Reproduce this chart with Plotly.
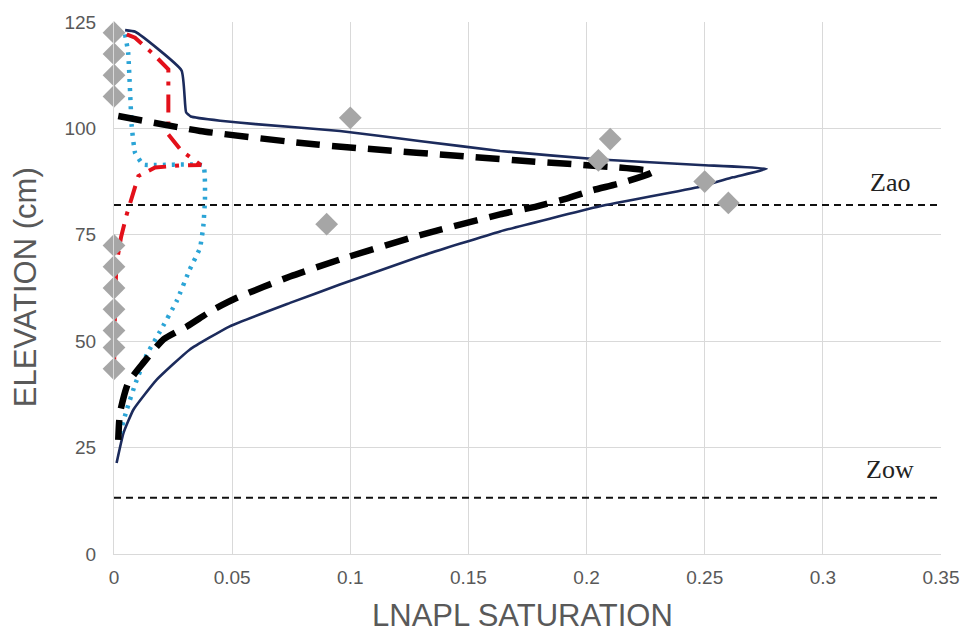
import plotly.graph_objects as go

# ---- data ----
# measured LNAPL saturation (diamonds)
obs_sat = [0, 0, 0, 0, 0.1, 0.21, 0.205, 0.25, 0.26, 0.09, 0, 0, 0, 0, 0, 0, 0]
obs_elev = [122.5, 117.5, 112.5, 107.5, 102.5, 97.5, 92.5, 87.5, 82.5, 77.5,
            72.5, 67.5, 62.5, 57.5, 52.5, 48.5, 43.5]

# solid navy profile
navy_sat = [0.0047, 0.009, 0.0286, 0.0305, 0.0325, 0.045, 0.06, 0.0956, 0.13, 0.1634,
            0.2057, 0.248, 0.2762, 0.262, 0.248, 0.2057, 0.1634, 0.13, 0.0956, 0.0745,
            0.049, 0.032, 0.018, 0.0082, 0.004, 0.0011]
navy_elev = [123.1, 122.7, 113.6, 103.8, 102.8, 101.8, 101.0, 99.4, 97.0, 94.7,
             92.7, 91.4, 90.5, 88.5, 86.3, 81.7, 75.8, 70.0, 63.3, 59.0,
             53.5, 48.0, 40.9, 33.9, 28.4, 21.4]

# black dashed profile
black_sat = [0.0018, 0.0364, 0.0858, 0.17, 0.228, 0.2148, 0.2027, 0.1915, 0.179,
             0.1634, 0.13, 0.0956, 0.0745, 0.052, 0.042, 0.031, 0.0209, 0.0124, 0.006,
             0.0025, 0.0018]
black_elev = [102.9, 99.4, 96.2, 92.5, 89.8, 87.2, 85.5, 83.5, 81.7,
              79.8, 75.0, 69.2, 65.2, 60.2, 57.4, 53.5, 50.4, 44.9, 40.2,
              33.1, 26.8]

# red dash-dot profile
red_sat = [0.0054, 0.0089, 0.016, 0.023, 0.023, 0.023, 0.0286, 0.0368, 0.028, 0.0174,
           0.0103, 0.0054, 0.003, 0.001, 0.0005, 0.0, 0.0]
red_elev = [122.1, 121.3, 117.8, 113.9, 103.7, 98.6, 94.7, 91.4, 91.3, 90.8,
            88.8, 79.8, 74.5, 68.0, 60.0, 50.0, 43.0]

# cyan dotted profile
cyan_sat = [0.0047, 0.006, 0.0075, 0.0089, 0.0124, 0.0378, 0.0385, 0.0378, 0.0364, 0.032,
            0.0265, 0.0195, 0.0138, 0.0089, 0.0054, 0.0018]
cyan_elev = [122.1, 117.8, 100.5, 94.3, 91.5, 91.3, 83.3, 77.0, 71.9, 66.8,
             59.4, 52.3, 46.8, 39.8, 33.9, 26.8]

# reference elevations
z_ao = 82.0
z_ow = 13.2
ref_sat = [0.0, 0.35]

x_ticks = [0, 0.05, 0.1, 0.15, 0.2, 0.25, 0.3, 0.35]
x_ticklabels = ["0", "0.05", "0.1", "0.15", "0.2", "0.25", "0.3", "0.35"]
y_ticks = [0, 25, 50, 75, 100, 125]

fig = go.Figure()

fig.add_trace(go.Scatter(x=ref_sat, y=[z_ao, z_ao], mode="lines",
                         line=dict(color="#111111", width=2, dash="7px,5px"),
                         showlegend=False, hoverinfo="skip"))
fig.add_trace(go.Scatter(x=ref_sat, y=[z_ow, z_ow], mode="lines",
                         line=dict(color="#111111", width=2, dash="7px,5px"),
                         showlegend=False, hoverinfo="skip"))

fig.add_trace(go.Scatter(x=navy_sat, y=navy_elev, mode="lines",
                         line=dict(color="#1C2B5C", width=2.6, shape="spline", smoothing=0.4),
                         showlegend=False))
fig.add_trace(go.Scatter(x=cyan_sat, y=cyan_elev, mode="lines",
                         line=dict(color="#2BA4D6", width=4.5, dash="3px,6px",
                                   shape="spline", smoothing=0.3),
                         showlegend=False))
fig.add_trace(go.Scatter(x=red_sat, y=red_elev, mode="lines",
                         line=dict(color="#E3101A", width=4, dash="18px,9px,4px,9px"),
                         showlegend=False))
fig.add_trace(go.Scatter(x=black_sat, y=black_elev, mode="lines",
                         line=dict(color="#000000", width=6.5, dash="24px,12px",
                                   shape="spline", smoothing=0.5),
                         showlegend=False))

fig.add_trace(go.Scatter(x=obs_sat, y=obs_elev, mode="markers",
                         marker=dict(symbol="diamond", size=17.5, color="#A6A6A6",
                                     line=dict(width=0)),
                         cliponaxis=False, showlegend=False))

fig.add_annotation(x=0.3284, y=87.3, text="Zao", showarrow=False,
                   font=dict(family="Liberation Serif", size=26, color="#222222"))
fig.add_annotation(x=0.3284, y=19.8, text="Zow", showarrow=False,
                   font=dict(family="Liberation Serif", size=26, color="#222222"))

# axis titles
fig.add_annotation(xref="paper", yref="paper", x=0.494, y=-0.1148, yanchor="middle",
                   text="LNAPL SATURATION", showarrow=False,
                   font=dict(family="Liberation Sans", size=31, color="#595959"))
fig.add_annotation(xref="paper", yref="paper", x=-0.106, y=0.502, xanchor="center",
                   yanchor="middle", textangle=-90,
                   text="ELEVATION (cm)", showarrow=False,
                   font=dict(family="Liberation Sans", size=31, color="#595959"))

fig.update_layout(
    width=964, height=634,
    margin=dict(l=114, r=23, t=22, b=80, autoexpand=False),
    paper_bgcolor="white", plot_bgcolor="white",
    font=dict(family="Liberation Sans", color="#595959"),
    xaxis=dict(range=[0, 0.35], tickvals=x_ticks, ticktext=x_ticklabels,
               showgrid=True, gridcolor="#D9D9D9", gridwidth=1,
               zeroline=False, showline=True, linecolor="#D9D9D9",
               ticks="", ticklabelstandoff=6, automargin=False,
               tickfont=dict(size=19, color="#595959")),
    yaxis=dict(range=[0, 125], tickvals=y_ticks,
               showgrid=True, gridcolor="#D9D9D9", gridwidth=1,
               zeroline=False, showline=True, linecolor="#D9D9D9",
               ticks="", ticklabelstandoff=13, automargin=False,
               tickfont=dict(size=19, color="#595959")),
)

# remove the browser's default body margin so the figure fills the window exactly
fig.write_html("out.html",
               config={"displayModeBar": False},
               post_script="document.body.style.margin='0';document.body.style.overflow='hidden';")
